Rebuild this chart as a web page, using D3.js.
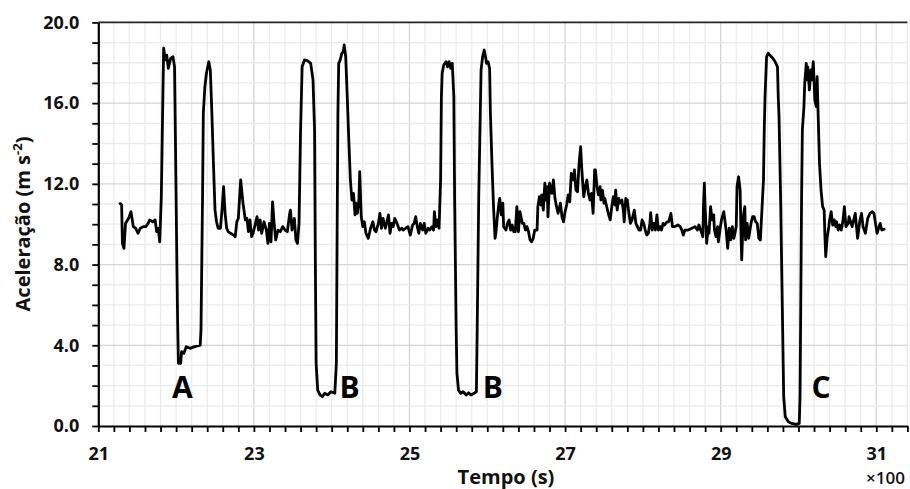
<!DOCTYPE html>
<html>
<head>
<meta charset="utf-8">
<script src="https://cdn.jsdelivr.net/npm/d3@7"></script>
<style>
  html, body { margin: 0; padding: 0; background: #fff; }
  svg { display: block; font-family: "Open Sans", "Liberation Sans", sans-serif; }
</style>
</head>
<body>
<svg id="chart" width="910" height="489"></svg>
<script>
// Time in units of 100 s (axis shows ×100)
const time = [
21.28,21.30,21.31,21.33,21.35,21.39,21.42,21.45,21.48,21.51,21.54,21.58,21.61,21.64,21.66,21.70,21.73,21.75,21.77,21.79,
21.81,21.83,21.84,21.86,21.88,21.90,21.93,21.96,21.98,21.99,22.01,22.02,22.03,22.06,22.07,22.10,22.13,22.18,22.24,22.31,
22.32,22.34,22.35,22.37,22.39,22.42,22.44,22.46,22.48,22.50,22.52,22.54,22.57,22.59,22.61,22.63,22.65,22.67,22.70,22.74,
22.76,22.78,22.80,22.83,22.86,22.89,22.91,22.93,22.95,22.97,22.99,
23.01,23.04,23.06,23.08,23.10,23.13,23.16,23.18,23.20,23.22,23.24,23.26,23.28,23.31,23.34,23.37,23.40,23.43,23.46,23.47,
23.49,23.52,23.54,23.56,23.58,23.60,23.62,23.65,23.69,23.73,23.76,23.78,23.79,23.80,23.82,23.85,23.88,23.91,23.95,23.99,
24.04,24.06,24.07,24.08,24.09,24.11,24.13,24.15,24.16,24.18,24.20,24.22,24.24,24.26,24.28,24.30,24.31,24.33,24.35,24.36,
24.38,24.40,24.42,24.44,24.47,24.50,24.53,24.55,24.57,24.60,24.62,24.64,24.66,24.69,24.71,24.73,24.75,24.77,24.79,24.81,
24.84,24.87,
24.90,24.92,24.95,24.98,25.01,25.04,25.06,25.08,25.10,25.12,25.14,25.17,25.19,25.21,25.24,25.26,25.29,25.31,25.32,25.34,
25.36,25.38,25.40,25.41,25.42,25.44,25.47,25.49,25.51,25.53,25.55,25.57,25.58,25.60,25.61,25.63,25.66,25.69,25.73,25.76,
25.79,25.83,25.86,25.87,25.89,25.91,25.92,25.94,25.96,25.98,25.99,26.01,26.03,26.04,26.06,26.08,26.10,26.11,26.13,26.15,
26.16,26.18,26.20,26.21,26.24,26.26,26.28,26.30,26.32,26.34,26.36,26.38,26.40,26.42,26.45,26.47,26.49,26.51,26.53,26.55,
26.57,26.59,26.61,26.64,26.65,26.67,26.69,26.70,26.72,26.74,26.75,26.77,26.78,
26.80,26.83,26.85,26.87,26.89,26.91,26.94,26.96,26.98,27.00,27.02,27.04,27.06,27.08,27.11,27.12,27.14,27.16,27.18,27.20,
27.21,27.23,27.24,27.26,27.28,27.30,27.32,27.34,27.36,27.38,27.39,27.41,27.43,27.45,27.46,27.48,27.50,27.51,27.54,27.56,
27.58,27.60,27.62,27.64,27.65,27.67,27.69,27.70,27.73,27.75,27.76,27.78,27.80,27.82,27.84,27.86,27.89,27.91,27.93,27.95,
27.97,27.99,28.01,28.03,28.05,28.07,28.09,28.10,28.12,28.14,28.16,28.18,28.20,28.22,28.24,28.26,28.28,28.31,28.33,28.35,
28.36,28.38,28.41,28.45,28.48,28.50,28.52,28.54,28.58,28.63,
28.67,28.70,28.72,28.75,28.77,28.78,28.79,28.80,28.82,28.84,28.85,28.87,28.89,28.91,28.92,28.94,28.96,28.97,28.99,29.01,
29.04,29.07,29.09,29.11,29.13,29.15,29.17,29.20,29.21,29.23,29.25,29.26,29.27,29.29,29.31,29.32,29.34,29.36,29.39,29.41,
29.43,29.45,29.47,29.49,29.51,29.53,29.55,29.56,29.57,29.59,29.61,29.63,29.67,29.70,29.73,29.74,29.75,29.77,29.79,29.81,
29.83,29.87,29.91,29.97,30.01,30.02,30.03,30.04,30.05,30.07,30.08,30.10,30.11,30.12,30.14,30.16,30.17,30.19,30.20,30.21,
30.23,30.24,30.25,30.27,30.29,30.31,30.33,30.34,30.35,30.37,30.39,30.40,30.42,30.44,30.46,30.48,30.49,30.51,30.53,30.55,
30.57,30.59,30.61,30.64,30.65,30.69,30.73,30.76,30.79,30.81,30.83,30.86,30.89,30.92,30.95,30.97,30.99,31.01,31.03,31.05,
31.07,31.10
];
// Acceleration (m s^-2)
const accel = [
11.03,10.95,9.05,8.80,10.04,10.29,10.62,9.88,9.80,9.55,9.80,9.88,9.88,10.04,10.21,10.12,10.21,9.63,9.80,9.13,
11.36,16.32,18.72,18.14,18.38,17.72,18.22,18.30,17.80,14.67,8.06,5.09,3.11,3.11,3.68,3.60,3.93,3.85,3.93,4.01,
4.76,11.36,15.50,16.81,17.48,18.05,17.64,15.50,13.02,10.70,10.12,9.80,9.80,10.70,11.86,10.54,9.80,9.63,9.55,9.46,
9.38,10.12,10.29,12.19,11.04,10.21,10.29,9.63,10.21,9.38,9.55,
9.88,10.37,9.71,10.21,9.55,10.12,9.71,9.05,10.04,9.13,11.11,10.04,9.22,9.71,9.63,9.88,9.71,9.63,10.54,10.70,
9.71,10.29,9.22,9.05,10.04,14.67,17.80,18.14,18.10,17.97,17.15,14.67,8.06,3.11,1.78,1.54,1.45,1.62,1.54,1.70,
1.62,3.11,9.71,15.50,17.97,18.14,18.47,18.55,18.88,18.30,16.32,14.17,12.19,11.20,11.53,10.46,11.04,10.54,11.20,12.60,
10.37,9.88,10.12,9.55,9.30,9.80,10.12,9.71,9.63,10.04,10.54,9.80,10.29,9.80,10.12,10.46,9.55,10.04,9.88,10.29,
10.04,9.71,
9.80,9.71,9.80,9.88,9.46,9.96,10.04,10.37,9.88,9.55,10.04,9.71,10.04,9.55,9.80,9.71,9.88,9.71,10.62,9.88,
10.21,9.80,12.19,16.32,17.48,17.89,18.05,17.80,18.05,17.72,17.97,16.32,11.36,4.76,2.61,1.78,1.62,1.70,1.54,1.65,
1.54,1.62,1.70,4.76,11.36,15.50,17.64,18.30,18.63,18.22,17.97,18.05,17.72,15.50,13.02,10.87,9.30,9.55,10.37,11.04,
11.28,10.46,11.04,9.88,9.71,10.04,10.21,9.71,9.96,9.63,9.63,10.87,9.63,10.62,10.04,10.04,9.71,9.88,9.63,9.22,
9.13,9.30,9.71,9.71,10.87,11.36,10.95,11.45,10.70,12.03,11.20,11.86,10.37,
12.03,11.53,12.19,11.28,10.87,10.54,11.04,10.37,10.12,10.62,10.95,11.45,11.11,12.52,12.19,12.69,11.69,11.61,13.02,13.84,
13.02,11.86,11.36,11.86,12.19,11.53,11.20,11.53,10.54,12.69,12.69,11.86,11.45,11.86,11.20,11.69,11.04,11.28,10.79,10.46,
10.21,10.87,11.36,10.95,11.69,10.70,11.28,11.04,11.20,10.62,10.12,11.28,11.20,10.54,10.04,10.21,10.70,10.04,9.88,9.71,
9.71,10.21,10.04,9.71,9.46,9.55,10.04,10.57,9.71,10.04,9.71,10.46,9.71,9.88,9.71,10.04,9.96,10.12,10.12,10.37,
10.54,9.88,9.88,9.96,9.88,9.71,9.46,9.71,9.71,9.80,
9.88,9.71,9.96,9.63,9.38,11.04,12.03,10.87,9.05,9.88,9.55,10.87,10.21,10.46,9.71,9.38,9.88,9.13,9.71,10.21,
10.62,9.71,8.80,9.80,9.22,9.88,9.30,9.88,11.86,12.35,11.69,9.71,8.23,10.37,10.87,9.22,10.04,9.30,10.04,10.37,
10.37,10.12,10.04,9.30,9.22,10.70,12.19,14.67,16.32,18.30,18.47,18.38,18.22,18.05,17.80,16.32,15.33,11.36,6.41,1.45,
0.46,0.21,0.13,0.08,0.13,1.45,6.41,11.36,14.67,15.82,16.98,17.97,17.15,17.80,16.65,17.64,17.15,18.05,17.15,16.15,
15.82,17.31,15.82,13.02,11.69,10.87,10.70,9.38,8.39,9.38,9.88,10.21,10.62,9.96,10.21,9.88,10.12,9.71,9.96,9.71,
10.12,10.87,9.88,10.04,10.37,9.88,10.54,9.30,10.21,10.54,9.88,9.55,10.29,10.54,10.62,10.54,10.04,9.55,9.80,10.04,
9.71,9.75
];

const xDomain = [21, 31.4];
const yDomain = [0, 20];
const xLabelTicks = [21, 23, 25, 27, 29, 31];
const yLabelTicks = [0, 4, 8, 12, 16, 20];
const annoLabels = ["A", "B", "B", "C"];
const annoTime = [22.08, 24.23, 26.07, 30.29];
const annoAccel = [1.39, 1.39, 1.39, 1.39];

const svg = d3.select("#chart");
const x = d3.scaleLinear().domain(xDomain).range([98.3, 907.4]);
const y = d3.scaleLinear().domain(yDomain).range([426, 22.4]);

const xMinor = d3.range(0, 53).map(i => +(21 + i * 0.2).toFixed(1));
const yMinor = d3.range(0, 21);
const isMajorX = v => xLabelTicks.some(t => Math.abs(t - v) < 1e-6);

// grid
const grid = svg.append("g");
grid.selectAll("line.vx").data(xMinor.filter(v => v > 21)).enter().append("line")
  .attr("x1", d => x(d)).attr("x2", d => x(d))
  .attr("y1", y(0)).attr("y2", y(20))
  .attr("stroke", d => isMajorX(d) ? "#d4d4d4" : "#ebebeb")
  .attr("stroke-width", 1.3);
grid.selectAll("line.hy").data(yMinor.filter(v => v > 0 && v < 20)).enter().append("line")
  .attr("x1", x(21)).attr("x2", x(31.4))
  .attr("y1", d => y(d)).attr("y2", d => y(d))
  .attr("stroke", d => d % 4 === 0 ? "#d4d4d4" : "#ebebeb")
  .attr("stroke-width", 1.3);
// top border
svg.append("line")
  .attr("x1", x(21)).attr("x2", x(31.4))
  .attr("y1", y(20)).attr("y2", y(20))
  .attr("stroke", "#222").attr("stroke-width", 1.6);

// data line
const line = d3.line().x((d, i) => x(time[i])).y((d, i) => y(accel[i]));
svg.append("path")
  .attr("d", line(accel))
  .attr("fill", "none")
  .attr("stroke", "#000")
  .attr("stroke-width", 2.8)
  .attr("stroke-linejoin", "round")
  .attr("stroke-linecap", "round");

// axes
const xAxis = d3.axisBottom(x)
  .tickValues(xMinor)
  .tickSize(6).tickSizeOuter(0).tickPadding(15)
  .tickFormat(d => isMajorX(d) ? d3.format("d")(d) : "");
const gx = svg.append("g").attr("transform", `translate(0,${y(0)})`).call(xAxis);
gx.select(".domain").attr("stroke", "#000").attr("stroke-width", 2.2);
gx.selectAll(".tick line").attr("stroke", "#000").attr("stroke-width", 1.8);
gx.selectAll(".tick text").attr("font-size", 18).attr("font-weight", "bold").attr("fill", "#111")
  .attr("font-family", "'Open Sans', sans-serif");

const yAxis = d3.axisLeft(y)
  .tickValues(yMinor)
  .tickSize(6).tickSizeOuter(0).tickPadding(13)
  .tickFormat(d => yLabelTicks.includes(d) ? d3.format(".1f")(d) : "");
const gy = svg.append("g").attr("transform", `translate(${x(21)},0)`).call(yAxis);
gy.select(".domain").attr("stroke", "#000").attr("stroke-width", 2.2);
gy.selectAll(".tick line").attr("stroke", "#000").attr("stroke-width", 1.8);
gy.selectAll(".tick text").attr("font-size", 18).attr("font-weight", "bold").attr("fill", "#111")
  .attr("font-family", "'Open Sans', sans-serif");

// annotations
svg.selectAll("text.anno").data(annoLabels).enter().append("text")
  .attr("class", "anno")
  .attr("x", (d, i) => x(annoTime[i]))
  .attr("y", (d, i) => y(annoAccel[i]))
  .attr("text-anchor", "middle")
  .attr("font-size", 30).attr("font-weight", "bold").attr("fill", "#000")
  .text(d => d);

// axis titles
svg.append("text")
  .attr("x", 506).attr("y", 484)
  .attr("text-anchor", "middle")
  .attr("font-size", 20).attr("font-weight", "bold").attr("fill", "#111")
  .text("Tempo (s)");
svg.append("text")
  .attr("x", 905).attr("y", 484)
  .attr("text-anchor", "end")
  .attr("font-size", 17).attr("font-weight", 600).attr("fill", "#111")
  .text("×100");

const yt = svg.append("text")
  .attr("transform", "translate(30,224) rotate(-90)")
  .attr("text-anchor", "middle")
  .attr("font-size", 20).attr("font-weight", "bold").attr("fill", "#111");
yt.append("tspan").text("Aceleração (m s");
yt.append("tspan").attr("font-size", 13).attr("dy", -8).text("-2");
yt.append("tspan").attr("dy", 8).text(")");
</script>
</body>
</html>
